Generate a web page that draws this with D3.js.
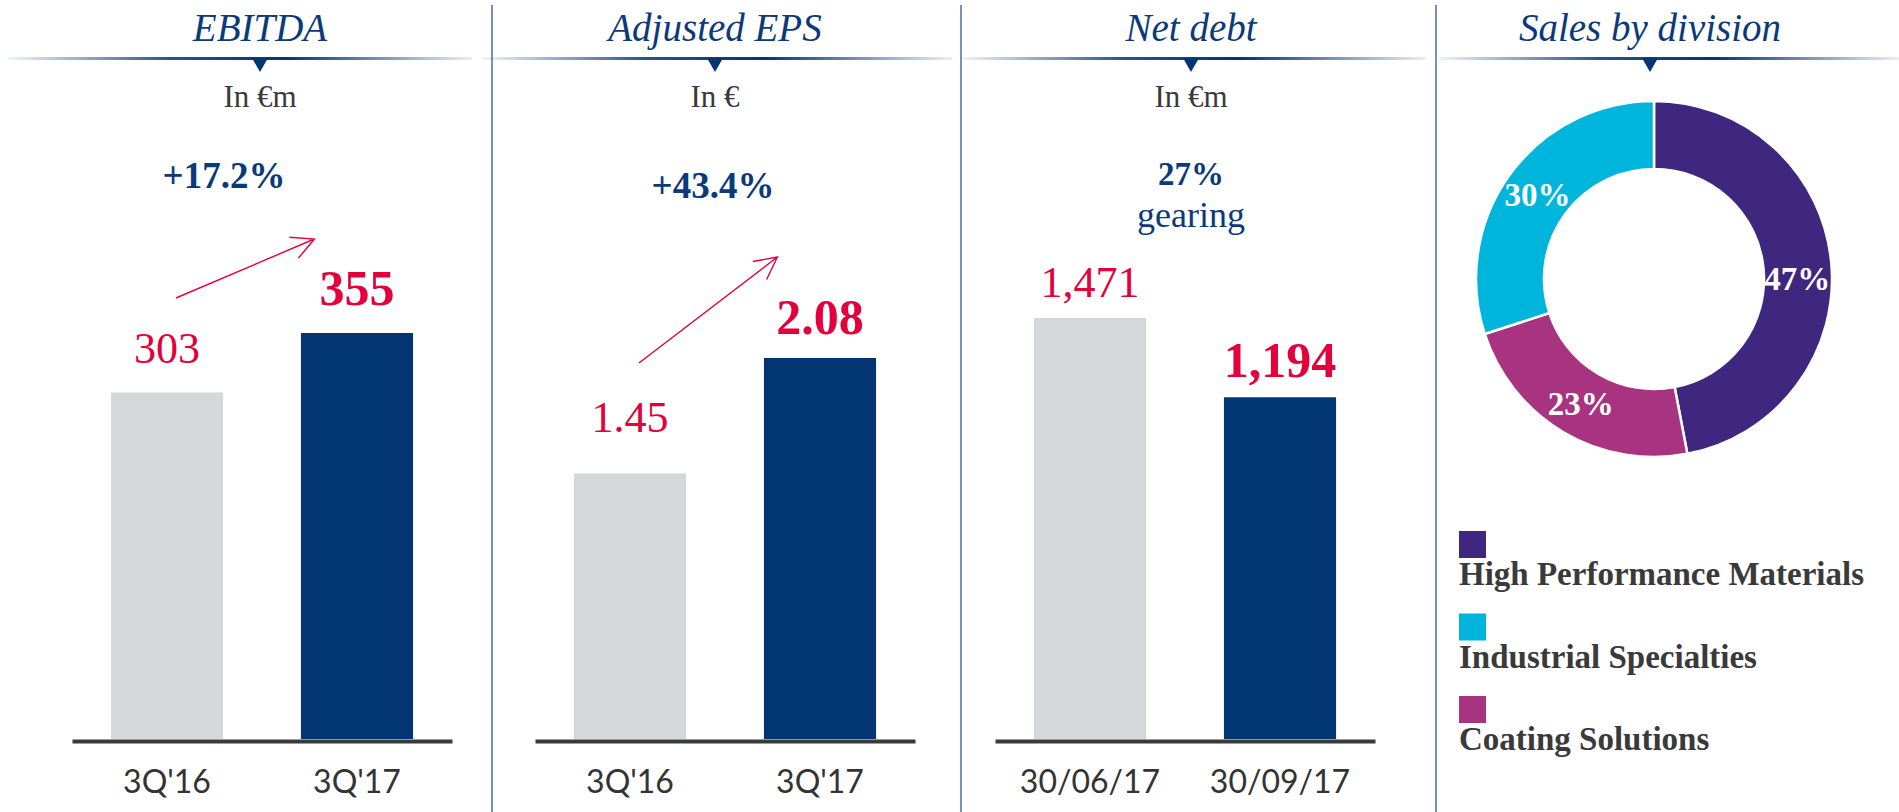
<!DOCTYPE html>
<html>
<head>
<meta charset="utf-8">
<script src="https://cdnjs.cloudflare.com/ajax/libs/d3/7.8.5/d3.min.js"></script>
<style>
  body { margin: 0; background: #fff; }
  svg { display: block; }
</style>
</head>
<body>
<div id="chart"></div>
<script>
// ---- data ----
var titles = ["EBITDA", "Adjusted EPS", "Net debt", "Sales by division"];
var units = ["In €m", "In €", "In €m"];

var ebitdaCats = ["3Q'16", "3Q'17"],
	ebitdaValues = [303, 355];
var epsCats = ["3Q'16", "3Q'17"],
	epsValues = [1.45, 2.08];
var debtCats = ["30/06/17", "30/09/17"],
	debtValues = [1471, 1194];

var growthLabels = ["+17.2%", "+43.4%"];
var gearingPct = "27%", gearingWord = "gearing";

var divisions = ["High Performance Materials", "Industrial Specialties", "Coating Solutions"],
	divisionShares = [47, 30, 23];
var sliceOrder = [0, 2, 1]; // clockwise from 12 o'clock

// ---- layout ----
var SVGwidth = 1899,
	SVGheight = 812,
	baseY = 741;

var navy = "#023574", grey = "#d6d7d9", red = "#e3003b", textNavy = "#0b3a7b", dark = "#3a3a3a";
var divColors = ["#3f2780", "#00b5dc", "#a73381"];
var serif = "'Liberation Serif', 'Times New Roman', serif";

var panels = [
	{cats: ebitdaCats, values: ebitdaValues, fmt: d3.format(","), x0: 72, x1: 452, top: 333, gaps: [29, 28],
		arrow: [298, 239], growth: {x: 224, y: 188}},
	{cats: epsCats, values: epsValues, fmt: d3.format(".2f"), x0: 535, x1: 915, top: 358, gaps: [41, 24],
		arrow: [363, 257], growth: {x: 713, y: 198}},
	{cats: debtCats, values: debtValues, fmt: d3.format(","), x0: 995, x1: 1375, top: 318, gaps: [21, 20]}
];
var headerCx = [260, 715, 1191, 1650];
var headerSpan = [[8, 472], [482, 952], [962, 1426], [1438, 1899]];
var dividers = [492, 961, 1436];

var svg = d3.select('#chart')
	.append('svg')
	.attr('width', SVGwidth)
	.attr('height', SVGheight);

var defs = svg.append('defs');
var grad = defs.append('linearGradient').attr('id', 'hdr');
grad.append('stop').attr('offset', '0%').attr('stop-color', navy).attr('stop-opacity', 0.05);
grad.append('stop').attr('offset', '35%').attr('stop-color', navy).attr('stop-opacity', 0.85);
grad.append('stop').attr('offset', '60%').attr('stop-color', navy).attr('stop-opacity', 1);
grad.append('stop').attr('offset', '100%').attr('stop-color', navy).attr('stop-opacity', 0.08);

// dividers
svg.selectAll('line.divider')
	.data(dividers)
	.enter()
	.append('line')
	.attr('class', 'divider')
	.attr('x1', function(d) { return d; })
	.attr('x2', function(d) { return d; })
	.attr('y1', 5)
	.attr('y2', SVGheight)
	.attr('stroke', '#4d6ea6')
	.attr('stroke-width', 1.5);

// headers
headerSpan.forEach(function(s, i) {
	svg.append('rect')
		.attr('x', s[0]).attr('y', 57)
		.attr('width', s[1] - s[0]).attr('height', 3)
		.attr('fill', 'url(#hdr)');
	var cx = headerCx[i];
	svg.append('path')
		.attr('d', 'M' + (cx - 8) + ',58L' + (cx + 8) + ',58L' + cx + ',72Z')
		.attr('fill', navy);
	svg.append('text')
		.attr('x', cx).attr('y', 41)
		.attr('text-anchor', 'middle')
		.attr('font-family', serif)
		.attr('font-style', 'italic')
		.attr('font-size', 39)
		.attr('fill', textNavy)
		.text(titles[i]);
	if (units[i]) {
		svg.append('text')
			.attr('x', cx).attr('y', 107)
			.attr('text-anchor', 'middle')
			.attr('font-family', serif)
			.attr('font-size', 31)
			.attr('fill', dark)
			.text(units[i]);
	}
});

// bar panels
panels.forEach(function(p, pi) {
	var x = d3.scaleBand()
		.domain(p.cats)
		.range([p.x0, p.x1])
		.paddingInner(0.41)
		.paddingOuter(0.205);
	var y = d3.scaleLinear()
		.domain([0, d3.max(p.values)])
		.range([baseY - 2, p.top]);

	var g = svg.append('g').attr('class', 'panel-' + pi);

	g.selectAll('rect.bar')
		.data(p.values)
		.enter()
		.append('rect')
		.attr('class', 'bar')
		.attr('x', function(d, i) { return x(p.cats[i]); })
		.attr('y', function(d) { return y(d); })
		.attr('width', x.bandwidth())
		.attr('height', function(d) { return y(0) - y(d); })
		.attr('fill', function(d, i) { return i === 0 ? grey : navy; });

	g.selectAll('text.val')
		.data(p.values)
		.enter()
		.append('text')
		.attr('class', 'val')
		.attr('x', function(d, i) { return x(p.cats[i]) + x.bandwidth() / 2; })
		.attr('y', function(d, i) { return y(d) - p.gaps[i]; })
		.attr('text-anchor', 'middle')
		.attr('font-family', serif)
		.attr('font-weight', function(d, i) { return i === 1 ? 'bold' : 'normal'; })
		.attr('font-size', function(d, i) { return i === 1 ? 50 : 44; })
		.attr('fill', red)
		.text(function(d) { return p.fmt(d); });

	var axis = g.append('g')
		.attr('transform', 'translate(0,' + baseY + ')')
		.call(d3.axisBottom(x).tickSize(0).tickSizeOuter(0).tickPadding(29));
	axis.select('.domain')
		.attr('stroke', dark)
		.attr('stroke-width', 4);
	axis.selectAll('text')
		.attr('font-family', "Lato, 'DejaVu Sans', sans-serif")
		.attr('font-weight', 400)
		.attr('font-size', 32)
		.attr('fill', '#333');

	if (p.arrow) {
		var xs = x(p.cats[0]) + x.bandwidth() * 0.58,
			xe = x(p.cats[1]) + x.bandwidth() * 0.12,
			ys = p.arrow[0], ye = p.arrow[1];
		var ang = Math.atan2(ye - ys, xe - xs), len = 25, spread = 27 * Math.PI / 180;
		var a1 = [xe - len * Math.cos(ang - spread), ye - len * Math.sin(ang - spread)],
			a2 = [xe - len * Math.cos(ang + spread), ye - len * Math.sin(ang + spread)];
		g.append('path')
			.attr('d', 'M' + xs + ',' + ys + 'L' + xe + ',' + ye +
				'M' + a1[0] + ',' + a1[1] + 'L' + xe + ',' + ye + 'L' + a2[0] + ',' + a2[1])
			.attr('fill', 'none')
			.attr('stroke', red)
			.attr('stroke-width', 1.4);
	}
	if (p.growth) {
		g.append('text')
			.attr('x', p.growth.x).attr('y', p.growth.y)
			.attr('text-anchor', 'middle')
			.attr('font-family', serif)
			.attr('font-weight', 'bold')
			.attr('font-size', 37)
			.attr('fill', textNavy)
			.text(growthLabels[pi]);
	}
});

// gearing note
svg.append('text')
	.attr('x', 1191).attr('y', 185)
	.attr('text-anchor', 'middle')
	.attr('font-family', serif)
	.attr('font-weight', 'bold')
	.attr('font-size', 33)
	.attr('fill', textNavy)
	.text(gearingPct);
svg.append('text')
	.attr('x', 1191).attr('y', 227)
	.attr('text-anchor', 'middle')
	.attr('font-family', serif)
	.attr('font-size', 36)
	.attr('fill', textNavy)
	.text(gearingWord);

// donut
var cx = 1654, cy = 279;
var pie = d3.pie()
	.sort(null)
	.value(function(d) { return d.share; });
var arc = d3.arc().innerRadius(110).outerRadius(178);
var labelArc = d3.arc().innerRadius(144).outerRadius(144);

var sliceData = sliceOrder.map(function(i) {
	return {name: divisions[i], share: divisionShares[i], color: divColors[i]};
});

var donut = svg.append('g')
	.attr('transform', 'translate(' + cx + ',' + cy + ')');

donut.selectAll('path')
	.data(pie(sliceData))
	.enter()
	.append('path')
	.attr('d', arc)
	.attr('fill', function(d) { return d.data.color; })
	.attr('stroke', '#fff')
	.attr('stroke-width', 2.5);

donut.selectAll('text')
	.data(pie(sliceData))
	.enter()
	.append('text')
	.attr('transform', function(d) { return 'translate(' + labelArc.centroid(d) + ')'; })
	.attr('dy', function(d, i) { return i === 0 ? '0.75em' : '0.35em'; })
	.attr('text-anchor', 'middle')
	.attr('font-family', serif)
	.attr('font-weight', 'bold')
	.attr('font-size', 33)
	.attr('fill', '#fff')
	.text(function(d) { return d.data.share + '%'; });

// legend
var legend = svg.append('g')
	.attr('transform', 'translate(1459,585)');

var item = legend.selectAll('g')
	.data(divisions)
	.enter()
	.append('g')
	.attr('transform', function(d, i) { return 'translate(0,' + (i * 82.5) + ')'; });

item.append('rect')
	.attr('x', 0).attr('y', -54)
	.attr('width', 27).attr('height', 27)
	.attr('fill', function(d, i) { return divColors[i]; });

item.append('text')
	.attr('x', 0).attr('y', 0)
	.attr('font-family', serif)
	.attr('font-weight', 'bold')
	.attr('font-size', 33)
	.attr('fill', dark)
	.text(function(d) { return d; });
</script>
</body>
</html>
